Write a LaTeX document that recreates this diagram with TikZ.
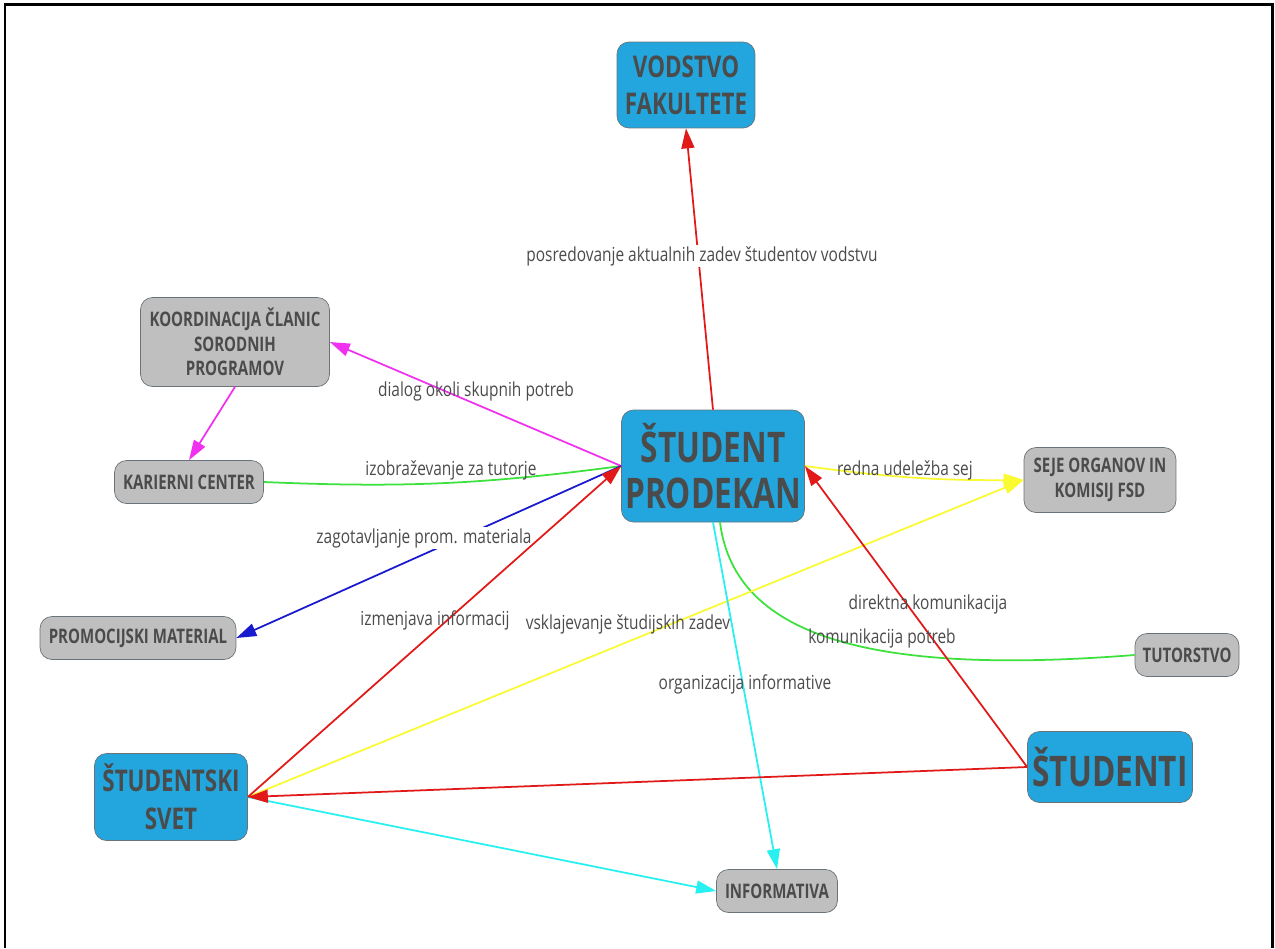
\documentclass[tikz,border=0pt]{standalone}
\usepackage{fontspec}
\setmainfont{Open Sans}[FakeStretch=0.8]
\newfontfamily\boxfont{Open Sans}[FakeStretch=0.75]
\usetikzlibrary{arrows.meta}

\definecolor{boxblue}{RGB}{34,166,221}
\definecolor{boxgray}{RGB}{191,191,191}
\definecolor{boxline}{RGB}{105,115,120}
\definecolor{txtgray}{RGB}{75,75,75}
\definecolor{lnred}{RGB}{225,25,25}
\definecolor{lnmag}{RGB}{240,50,240}
\definecolor{lngreen}{RGB}{60,225,60}
\definecolor{lnblue}{RGB}{25,25,205}
\definecolor{lnyellow}{RGB}{250,250,50}
\definecolor{lncyan}{RGB}{40,240,240}

\begin{document}
\begin{tikzpicture}[x=0.02cm,y=0.02cm,
	box/.style={rectangle,rounded corners=0.24cm,draw=boxline,thin,text=txtgray,align=center,inner sep=0pt},
	bluebox/.style={box,fill=boxblue},
	graybox/.style={box,fill=boxgray,font=\boxfont\bfseries\fontsize{11.4}{13.8}\selectfont},
	lbl/.style={text=txtgray,font=\fontsize{11}{13}\selectfont,inner sep=1pt},
	link/.style={line width=1pt,-{Triangle[length=0.4cm,width=0.26cm]}},
	plain/.style={line width=1pt}]
	\useasboundingbox (0,0) rectangle (1275,-948);
	\draw[line width=1.7pt] (5,-948)--(5,-4)--(1272,-4)--(1272,-948);	%frame
	
	%NODES
	\node[bluebox,minimum width=3.66cm,minimum height=2.24cm,font=\boxfont\bfseries\fontsize{24}{26}\selectfont] (prodekan) at (713,-466) {ŠTUDENT\\PRODEKAN};
	\node[bluebox,minimum width=2.76cm,minimum height=1.72cm,font=\boxfont\bfseries\fontsize{17}{21}\selectfont] (vodstvo) at (686,-85) {VODSTVO\\FAKULTETE};
	\node[bluebox,minimum width=3.3cm,minimum height=1.42cm,font=\boxfont\bfseries\fontsize{24}{26}\selectfont] (studenti) at (1110,-767) {ŠTUDENTI};
	\node[bluebox,minimum width=3.06cm,minimum height=1.74cm,font=\boxfont\bfseries\fontsize{17}{21.5}\selectfont] (svet) at (171,-797) {ŠTUDENTSKI\\SVET};
	%
	\node[graybox,minimum width=3.78cm,minimum height=1.78cm] (koord) at (235,-342) {KOORDINACIJA ČLANIC\\SORODNIH\\PROGRAMOV};
	\node[graybox,minimum width=2.98cm,minimum height=0.86cm] (karierni) at (189,-482) {KARIERNI CENTER};
	\node[graybox,minimum width=3.92cm,minimum height=0.86cm] (promo) at (138,-638) {PROMOCIJSKI MATERIAL};
	\node[graybox,minimum width=3.04cm,minimum height=1.3cm,font=\boxfont\bfseries\fontsize{11.4}{14.6}\selectfont] (seje) at (1100,-480) {SEJE ORGANOV IN\\KOMISIJ FSD};
	\node[graybox,minimum width=2.08cm,minimum height=0.86cm] (tutor) at (1187,-655) {TUTORSTVO};
	\node[graybox,minimum width=2.42cm,minimum height=0.86cm] (info) at (777,-891) {INFORMATIVA};
	
	%LINKS
	\draw[plain,lngreen] (prodekan.south) ++(7,0) .. controls +(15,-118) and +(-255,-20) .. (tutor.west);
	\draw[plain,lngreen] (karierni.east) to[bend right=5] (prodekan.west);
	\draw[link,lnyellow] (prodekan.east) to[bend right=4] (seje.west);
	\draw[link,lnyellow] (svet.east)--(seje.west);
	\draw[link,lncyan] (prodekan.south)--(info.north);
	\draw[link,lncyan] (svet.east)--(info.west);
	\draw[link,lnmag] (prodekan.west)--(koord.east);
	\draw[link,lnmag] (koord.south)--(karierni.north);
	\draw[link,lnblue] (prodekan.west)--(promo.east);
	\node[lbl,fill=white] (lpromo) at (424,-538) {zagotavljanje prom. materiala};
	\draw[link,lnred] (svet.east)--(prodekan.west);
	\draw[link,lnred] (studenti.west)--(prodekan.east);
	\draw[link,lnred] (studenti.west)--(svet.east);
	\draw[link,lnred] (prodekan.north)--(vodstvo.south);
	\node[lbl,fill=white] (lvodstvo) at (702,-256) {posredovanje aktualnih zadev študentov vodstvu};
	
	%LABELS
	\node[lbl] (lkoord) at (476,-391) {dialog okoli skupnih potreb};
	\node[lbl] (lkarierni) at (451,-470) {izobraževanje za tutorje};
	\node[lbl] (lsvet) at (435,-620) {izmenjava informacij};
	\node[lbl] (lseje) at (628,-624) {vsklajevanje študijskih zadev};
	\node[lbl] (linfo) at (745,-684) {organizacija informative};
	\node[lbl] (lsej) at (905,-470) {redna udeležba sej};
	\node[lbl] (lstudenti) at (928,-604) {direktna komunikacija};
	\node[lbl] (ltutor) at (882,-638) {komunikacija potreb};
	
	%\draw[help lines,step=100] (0,-948) grid (1275,0);
\end{tikzpicture}
\end{document}
